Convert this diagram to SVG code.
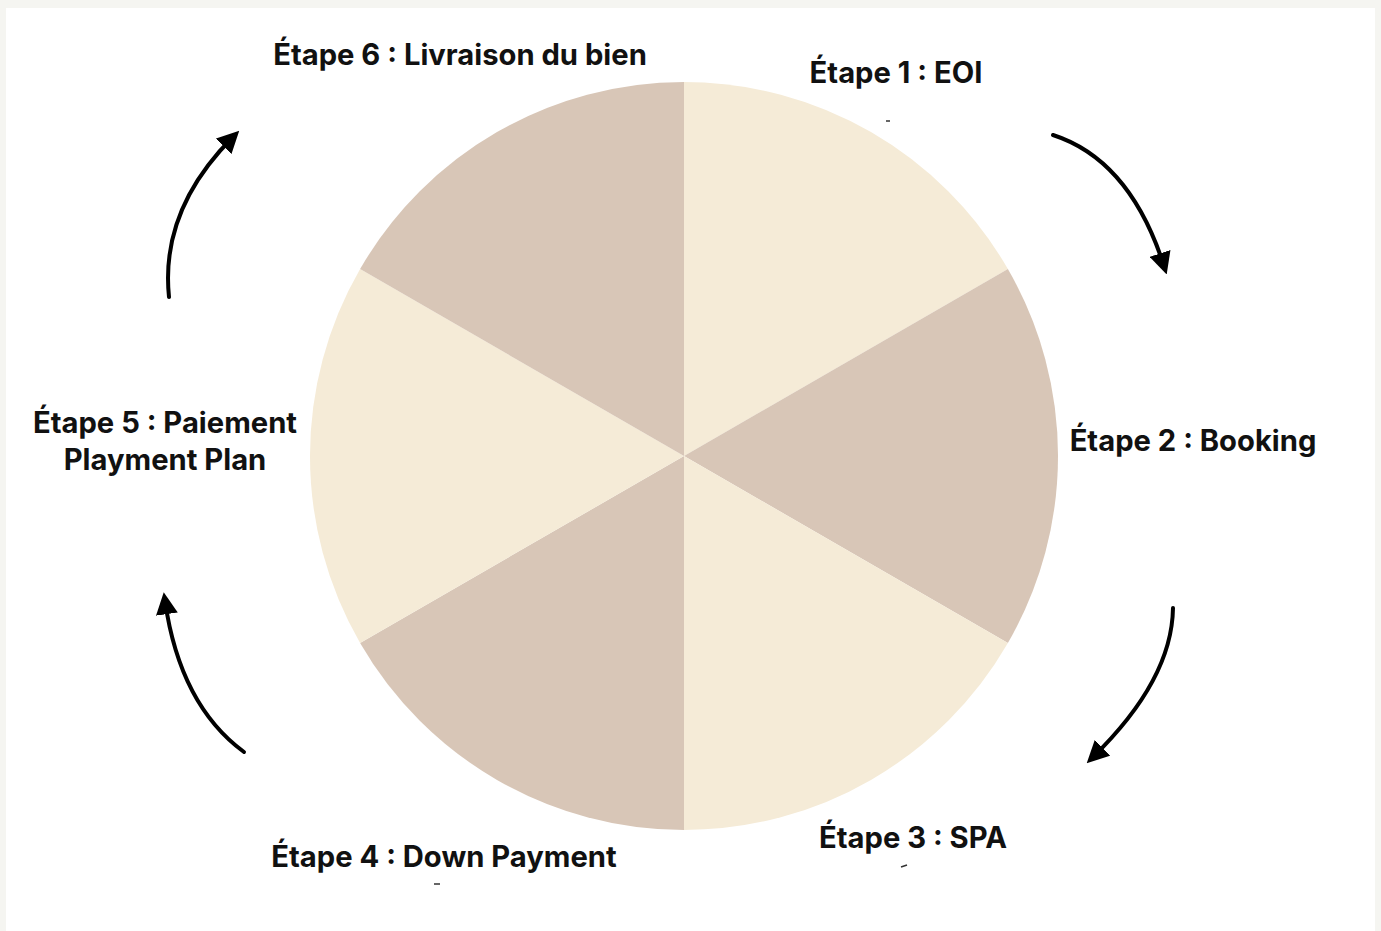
<svg xmlns="http://www.w3.org/2000/svg" width="1381" height="931" viewBox="0 0 1381 931">
  <style>
    .lbl { font-family: Inter, "Liberation Sans", sans-serif; font-weight: 700; font-size: 29.2px; fill: #111111; text-anchor: middle; }
    .light { fill: #f5ebd7; }
    .dark { fill: #d8c6b7; }
    .arc { fill: none; stroke: #000000; stroke-width: 4; stroke-linecap: round; }
    .tick { fill: none; stroke: #333333; stroke-width: 1.5; }
  </style>
  <defs>
    <marker id="head" viewBox="0 0 10 10" refX="6" refY="5" markerWidth="5.5" markerHeight="5.5" orient="auto" markerUnits="strokeWidth">
      <path d="M0,0 L10,5 L0,10 Z" fill="#000000"/>
    </marker>
  </defs>

  <!-- page -->
  <rect x="0" y="0" width="1381" height="931" fill="#f5f5f1"/>
  <rect x="6" y="8" width="1369" height="923" fill="#ffffff"/>

  <!-- wheel: six 60-degree sectors around (684,456), r=374 -->
  <g id="wheel">
    <path id="sector-1" class="light" d="M684,456 L684,82 A374,374 0 0 1 1007.9,269 Z"/>
    <path id="sector-2" class="dark" d="M684,456 L1007.9,269 A374,374 0 0 1 1007.9,643 Z"/>
    <path id="sector-3" class="light" d="M684,456 L1007.9,643 A374,374 0 0 1 684,830 Z"/>
    <path id="sector-4" class="dark" d="M684,456 L684,830 A374,374 0 0 1 360.1,643 Z"/>
    <path id="sector-5" class="light" d="M684,456 L360.1,643 A374,374 0 0 1 360.1,269 Z"/>
    <path id="sector-6" class="dark" d="M684,456 L360.1,269 A374,374 0 0 1 684,82 Z"/>
  </g>

  <!-- labels -->
  <g id="step-1"><text class="lbl" x="896" y="83">Étape 1 : EOI</text></g>
  <g id="step-2"><text class="lbl" x="1193" y="451">Étape 2 : Booking</text></g>
  <g id="step-3"><text class="lbl" x="913" y="848">Étape 3 : SPA</text></g>
  <g id="step-4"><text class="lbl" x="444" y="867">Étape 4 : Down Payment</text></g>
  <g id="step-5">
    <text class="lbl" x="165" y="433">Étape 5 : Paiement</text>
    <text class="lbl" x="165" y="470">Playment Plan</text>
  </g>
  <g id="step-6"><text class="lbl" x="460" y="65">Étape 6 : Livraison du bien</text></g>

  <!-- small stray ticks under labels -->
  <g id="ticks">
    <path class="tick" d="M886,121 L890,121"/>
    <path class="tick" d="M901,867 L907,865"/>
    <path class="tick" d="M434,884 L440,884"/>
  </g>

  <!-- connectors -->
  <g id="connectors">
    <path class="arc" marker-end="url(#head)" d="M1053,135 Q1130,160 1164,266"/>
    <path class="arc" marker-end="url(#head)" d="M1173,608 Q1172,680 1093,757"/>
    <path class="arc" marker-end="url(#head)" d="M244,752 Q180,705 165,601"/>
    <path class="arc" marker-end="url(#head)" d="M169,297 Q160,210 233,137"/>
  </g>
</svg>
